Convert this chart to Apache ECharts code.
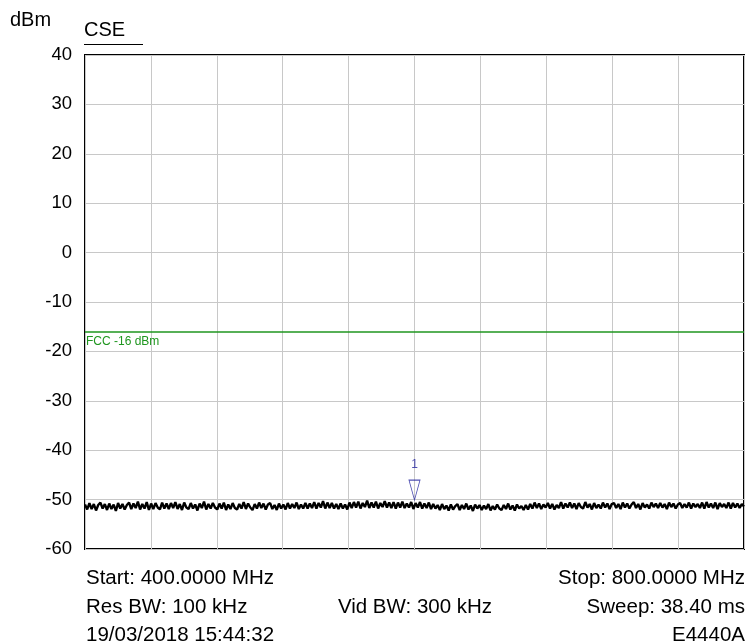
<!DOCTYPE html>
<html>
<head>
<meta charset="utf-8">
<script src="https://cdn.jsdelivr.net/npm/echarts@6/dist/echarts.min.js"></script>
<style>
html,body{margin:0;padding:0;background:#fff;}
#chart{width:747px;height:644px;}
</style>
</head>
<body>
<div id="chart"></div>
<script>
var startFreq = 400;   // MHz
var stopFreq = 800;    // MHz
var yTicks = [-60, -50, -40, -30, -20, -10, 0, 10, 20, 30, 40];
var limitValue = -16;
var limitLabel = 'FCC -16 dBm';
var markerFreq = 600;
var markerLevel = -50.1;
var traceValues = [
-51.0,-52.0,-50.7,-51.9,-50.9,-52.2,-51.1,-50.6,-51.8,-50.9,-52.1,-50.8,-51.9,-51.0,-52.3,-50.7,-51.8,-50.9,-52.0,-51.1,
-50.6,-51.9,-50.8,-51.7,-50.4,-52.0,-50.9,-51.8,-50.5,-52.1,-50.8,-51.9,-50.7,-51.6,-52.0,-50.6,-51.8,-50.8,-51.9,-50.7,
-51.7,-50.5,-51.9,-50.9,-52.1,-50.6,-51.6,-51.9,-50.7,-51.8,-51.0,-52.2,-50.8,-51.7,-50.4,-52.0,-50.9,-51.8,-50.7,-51.6,
-52.0,-50.8,-51.8,-50.6,-52.1,-51.0,-51.9,-50.7,-51.7,-52.0,-50.9,-51.8,-50.5,-51.9,-50.8,-51.6,-52.1,-50.9,-51.8,-50.6,
-51.7,-50.8,-52.0,-51.0,-50.7,-51.9,-51.1,-52.1,-50.8,-51.8,-51.0,-52.0,-50.7,-51.8,-50.9,-51.7,-50.6,-51.9,-51.0,-51.8,
-50.7,-51.8,-50.8,-51.7,-50.5,-51.8,-50.7,-51.6,-50.3,-51.8,-50.6,-51.7,-50.7,-51.8,-50.9,-51.9,-50.8,-51.8,-51.0,-52.0,
-50.6,-51.7,-50.5,-51.6,-50.4,-51.8,-50.7,-51.5,-50.2,-51.7,-50.6,-51.6,-50.4,-51.8,-50.7,-51.5,-50.3,-51.6,-50.6,-51.7,
-50.5,-51.8,-50.6,-51.6,-50.4,-51.7,-50.8,-51.6,-50.5,-51.9,-50.7,-51.6,-50.5,-51.8,-50.8,-51.7,-50.6,-51.9,-50.9,-51.8,
-51.1,-52.1,-50.9,-51.9,-51.2,-52.2,-51.0,-52.0,-51.3,-50.9,-52.1,-51.1,-51.9,-50.8,-52.0,-51.2,-52.3,-51.0,-51.8,-51.1,
-52.1,-51.2,-51.9,-50.9,-52.2,-51.3,-52.0,-51.0,-51.8,-52.1,-51.1,-51.9,-50.8,-52.0,-51.2,-52.2,-51.0,-51.8,-51.3,-52.1,
-51.1,-52.0,-50.9,-51.8,-50.6,-51.7,-50.8,-51.9,-51.0,-51.6,-50.7,-51.8,-50.9,-52.0,-51.1,-51.7,-50.5,-51.8,-50.8,-51.6,
-50.6,-51.7,-50.8,-51.9,-50.7,-51.5,-51.8,-50.5,-51.6,-50.9,-52.0,-50.7,-51.7,-51.0,-51.8,-50.6,-51.6,-50.8,-51.9,-50.9,
-50.7,-51.7,-50.9,-51.9,-50.6,-51.6,-50.8,-51.8,-51.0,-50.5,-51.7,-50.9,-52.0,-50.7,-51.6,-51.0,-51.8,-50.6,-51.5,-50.8,
-51.7,-50.7,-51.6,-50.9,-51.9,-50.6,-51.5,-50.8,-51.8,-51.0,-50.7,-51.7,-50.9,-51.6,-50.6,-51.8,-50.8,-51.5,-50.9,-51.7,
-50.6,-51.8,-50.5,-51.6,-50.8,-51.7,-50.6,-51.9,-50.7,-51.5,-50.9,-51.7,-50.6,-51.8,-50.7,-51.6,-50.8,-51.7,-50.9,-51.4
];
var footerLeft = ['Start: 400.0000 MHz', 'Res BW: 100 kHz', '19/03/2018 15:44:32'];
var footerCenter = ['', 'Vid BW: 300 kHz', ''];
var footerRight = ['Stop: 800.0000 MHz', 'Sweep: 38.40 ms', 'E4440A'];

var FONT = '"Liberation Sans", Arial, Helvetica, sans-serif';
var n = traceValues.length;
var traceData = traceValues.map(function (v, i) {
  return [startFreq + i * (stopFreq - startFreq) / (n - 1), v];
});

var chart = echarts.init(document.getElementById('chart'), null, {renderer: 'canvas'});

var footerRows = [578, 607, 635];
var graphics = [
  {type: 'text', left: 10, top: 10, style: {text: 'dBm', font: '20px ' + FONT, fill: '#000'}},
  {type: 'text', left: 84, top: 20, style: {text: 'CSE', font: '20px ' + FONT, fill: '#000'}},
  {type: 'line', shape: {x1: 84, y1: 44.5, x2: 143, y2: 44.5}, style: {stroke: '#000', lineWidth: 1}}
];
footerRows.forEach(function (y, r) {
  graphics.push({type: 'text', x: 86, y: y, style: {text: footerLeft[r], font: '20.5px ' + FONT, fill: '#000', textAlign: 'left', textVerticalAlign: 'middle'}});
  if (footerCenter[r]) graphics.push({type: 'text', x: 415, y: y, style: {text: footerCenter[r], font: '20.5px ' + FONT, fill: '#000', textAlign: 'center', textVerticalAlign: 'middle'}});
  graphics.push({type: 'text', x: 745, y: y, style: {text: footerRight[r], font: '20.5px ' + FONT, fill: '#000', textAlign: 'right', textVerticalAlign: 'middle'}});
});

chart.setOption({
  animation: false,
  backgroundColor: '#fff',
  grid: {left: 85, right: 3, top: 55, bottom: 95, show: true, borderColor: '#000', borderWidth: 2, backgroundColor: 'transparent', containLabel: false},
  xAxis: {
    type: 'value', min: startFreq, max: stopFreq, interval: 40,
    axisLine: {show: false}, axisTick: {show: false}, axisLabel: {show: false},
    splitLine: {show: true, lineStyle: {color: '#c8c8c8', width: 1}}
  },
  yAxis: {
    type: 'value', min: yTicks[0], max: yTicks[yTicks.length - 1], interval: 10,
    axisLine: {show: false}, axisTick: {show: false},
    axisLabel: {color: '#000', fontSize: 18.5, fontFamily: FONT, margin: 13},
    splitLine: {show: true, lineStyle: {color: '#c8c8c8', width: 1}}
  },
  graphic: graphics,
  series: [
    {
      type: 'line', data: traceData, showSymbol: false, silent: true,
      lineStyle: {color: '#000', width: 2.4},
      markLine: {
        silent: true, symbol: 'none',
        lineStyle: {color: '#1f961f', width: 1.5, type: 'solid'},
        label: {show: true, formatter: limitLabel, position: 'insideStartBottom', color: '#1f961f', fontSize: 12, fontFamily: FONT, distance: [1, 4]},
        data: [{yAxis: limitValue}]
      }
    },
    {
      type: 'scatter', data: [[markerFreq, markerLevel]], silent: true,
      symbol: 'path://M0,0L10,0L5,20Z', symbolSize: [11, 20], symbolOffset: [0, '-50%'],
      symbolKeepAspect: false,
      itemStyle: {color: 'rgba(255,255,255,0)', borderColor: '#24249f', borderWidth: 1},
      label: {show: true, formatter: '1', position: 'top', distance: 9, color: '#24249f', fontSize: 12, fontFamily: FONT},
      z: 5
    }
  ]
});
</script>
</body>
</html>
